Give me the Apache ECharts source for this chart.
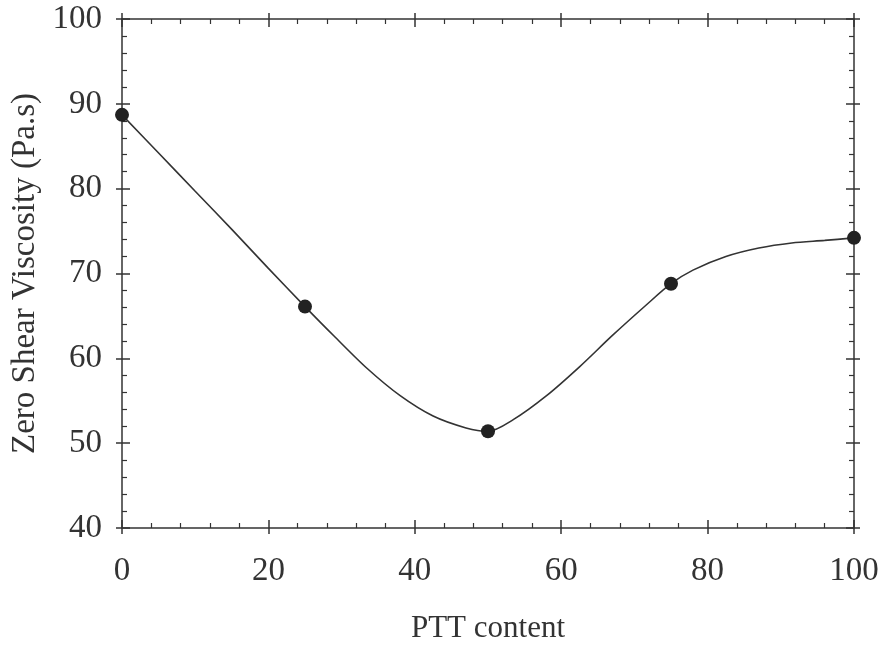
<!DOCTYPE html>
<html>
<head>
    <meta http-equiv="Content-Type" content="text/html; charset=UTF-8">
    <title>Zero Shear Viscosity</title>
    <style>
        html,body {
            height: 100%;
            width: 100%;
            margin: 0;
            padding: 0;
            background: #fff;
        }
        #chart {
            width: 887px;
            height: 651px;
        }
    </style>
    <script src="https://cdn.jsdelivr.net/npm/echarts@6/dist/echarts.min.js"></script>
</head>
<body>
<div id="chart"></div>
<script type="text/javascript">
    // measured points
    var pttContent = [0, 25, 50, 75, 100];
    var viscosity = [88.7, 66.1, 51.4, 68.8, 74.2];

    // fitted curve
    var curveX = [0, 5, 10, 15, 20, 25, 29, 33.5, 38, 42.5, 47, 50, 53.5, 58, 62.5, 67, 71.5, 75, 78, 82.5, 87, 91.5, 96, 100];
    var curveY = [88.7, 84.2, 79.7, 75.2, 70.6, 66.1, 62.6, 58.8, 55.6, 53.2, 51.8, 51.4, 52.8, 55.6, 59.0, 62.7, 66.2, 68.8, 70.4, 72.0, 73.0, 73.6, 73.9, 74.2];

    var xTicks = [0, 20, 40, 60, 80, 100];
    var yTicks = [40, 50, 60, 70, 80, 90, 100];

    var ink = '#333';
    var font = '"Liberation Serif", "Times New Roman", serif';

    var pointData = [];
    for (var i = 0; i < pttContent.length; i++) {
        pointData.push([pttContent[i], viscosity[i]]);
    }
    var curveData = [];
    for (var j = 0; j < curveX.length; j++) {
        curveData.push([curveX[j], curveY[j]]);
    }

    function frameAxis(pos, inside, main, range, step) {
        var horiz = (pos == 'bottom' || pos == 'top');
        return {
            type: 'value',
            position: pos,
            min: range[0],
            max: range[range.length - 1],
            interval: step,
            axisLine: { show: inside, onZero: false, lineStyle: { color: ink, width: 1.5 } },
            axisTick: { show: true, inside: inside, length: inside ? 8 : 6, lineStyle: { color: ink, width: 1.5 } },
            minorTick: { show: inside, splitNumber: 5, length: 5, lineStyle: { color: ink, width: 1.2 } },
            axisLabel: {
                show: main,
                color: ink,
                fontFamily: font,
                fontSize: 33,
                margin: horiz ? 27 : 20
            },
            splitLine: { show: false },
            name: main ? (horiz ? 'PTT content' : 'Zero Shear Viscosity (Pa.s)') : '',
            nameLocation: 'middle',
            nameGap: horiz ? 85 : 71,
            nameTextStyle: { color: ink, fontFamily: font, fontSize: horiz ? 31 : 33 }
        };
    }

    var myChart = echarts.init(document.getElementById('chart'));
    var option = {
        backgroundColor: '#fff',
        animation: false,
        grid: { left: 122, right: 33, top: 19, bottom: 123, outerBoundsMode: 'none' },
        xAxis: [
            frameAxis('bottom', true, true, xTicks, 20),
            frameAxis('top', true, false, xTicks, 20),
            frameAxis('bottom', false, false, xTicks, 20),
            frameAxis('top', false, false, xTicks, 20)
        ],
        yAxis: [
            frameAxis('left', true, true, yTicks, 10),
            frameAxis('right', true, false, yTicks, 10),
            frameAxis('left', false, false, yTicks, 10),
            frameAxis('right', false, false, yTicks, 10)
        ],
        series: [
            {
                name: 'fit',
                type: 'line',
                xAxisIndex: 0,
                yAxisIndex: 0,
                data: curveData,
                smooth: 0.3,
                showSymbol: false,
                lineStyle: { color: ink, width: 1.6 },
                z: 2
            },
            {
                name: 'Zero Shear Viscosity',
                type: 'scatter',
                xAxisIndex: 0,
                yAxisIndex: 0,
                data: pointData,
                symbolSize: 14,
                itemStyle: { color: '#222', opacity: 1 },
                z: 3
            }
        ]
    };
    myChart.setOption(option);
</script>
</body>
</html>
